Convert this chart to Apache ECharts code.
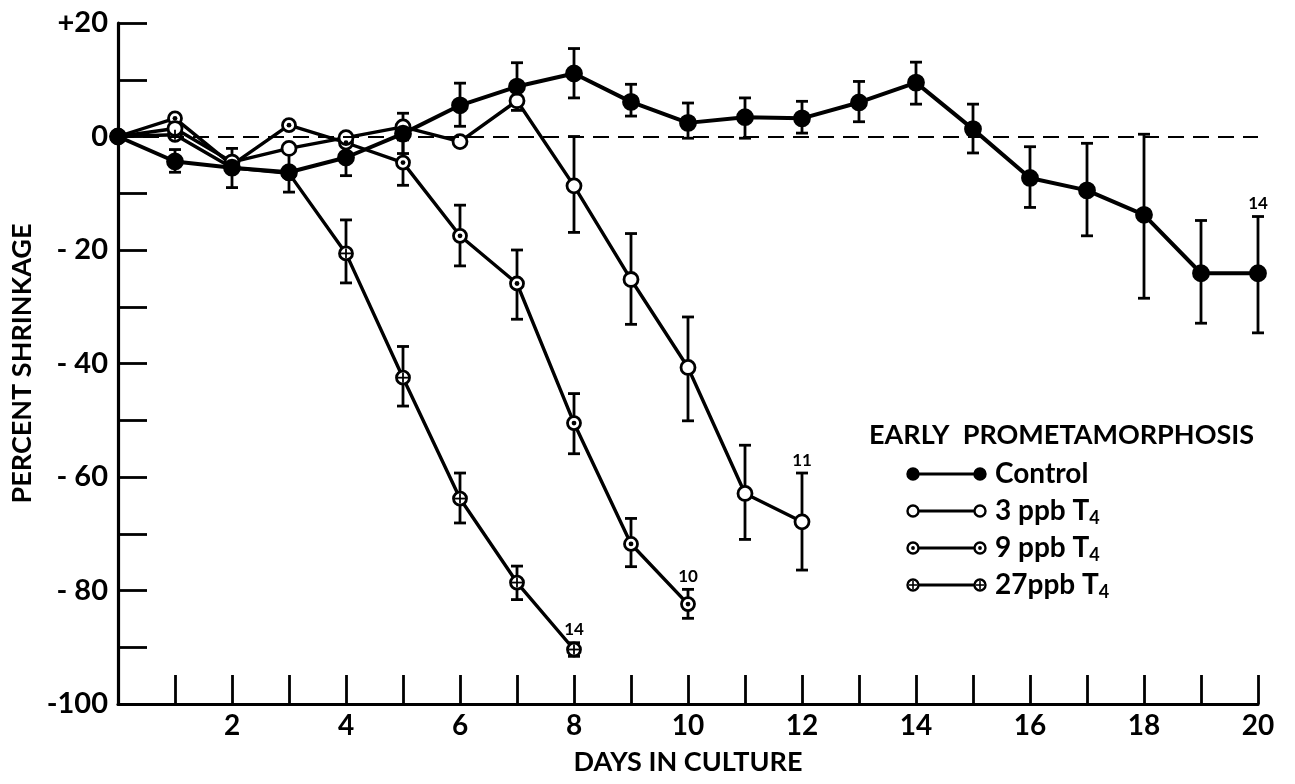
<!DOCTYPE html>
<html>
<head>
<meta charset="utf-8">
<script src="https://cdn.jsdelivr.net/npm/echarts@6/dist/echarts.min.js"></script>
<style>
html,body{margin:0;padding:0;background:#fff;}
#chart{width:1295px;height:784px;}
</style>
</head>
<body>
<div id="chart"></div>
<script>
// ---------- DATA ----------
var xTickLabels = ['2','4','6','8','10','12','14','16','18','20'];
var yTickLabels = ['-100','- 80','- 60','- 40','- 20','0','+20'];

var controlDays  = [0,1,2,3,4,5,6,7,8,9,10,11,12,13,14,15,16,17,18,19,20];
var controlVals  = [0,-4.4,-5.5,-6.3,-3.7,0.5,5.5,8.8,11.1,6.1,2.4,3.4,3.2,6.0,9.5,1.3,-7.3,-9.5,-13.8,-24.1,-24.1];
var controlLow   = [null,-6.3,-9.0,-9.8,-6.9,-3.0,1.8,4.6,6.8,3.6,-0.3,-0.3,0.6,2.6,5.7,-2.9,-12.5,-17.5,-28.5,-32.9,-34.6];
var controlHigh  = [null,-2.3,-2.1,-2.8,-0.5,4.1,9.4,13.0,15.5,9.2,5.9,6.8,6.2,9.7,13.1,5.7,-1.8,-1.2,0.4,-14.8,-14.1];

var t3Days = [0,1,2,3,4,5,6,7,8,9,10,11,12];
var t3Vals = [0,1.4,-4.5,-2.1,-0.2,1.7,-0.9,6.3,-8.7,-25.2,-40.7,-62.9,-67.9];
var t3Low  = [null,null,null,null,null,null,null,null,-16.9,-33.1,-50.1,-71.0,-76.4];
var t3High = [null,null,null,null,null,null,null,null,0,-17.1,-31.8,-54.4,-59.3];

var t9Days = [0,1,2,3,4,5,6,7,8,9,10];
var t9Vals = [0,3.2,-5.0,2.0,-1.1,-4.6,-17.5,-25.9,-50.5,-71.8,-82.4];
var t9Low  = [null,null,null,null,null,-8.6,-22.8,-32.2,-55.9,-75.8,-84.9];
var t9High = [null,null,null,null,null,-0.6,-12.1,-20.0,-45.3,-67.3,-79.8];

var t27Days = [0,1,2,3,4,5,6,7,8];
var t27Vals = [0,0.3,-5.5,-6.5,-20.6,-42.5,-63.8,-78.6,-90.4];
var t27Low  = [null,null,null,null,-25.8,-47.5,-68.1,-81.6,-91.6];
var t27High = [null,null,null,null,-14.7,-37.0,-59.3,-75.7,-89.2];

// sample-size annotations (n) placed above the last error bar
var nDays  = [20, 12, 10, 8];
var nAtY   = [-14.1, -59.3, -79.8, -89.2];
var nTexts = ['14', '11', '10', '14'];

var legendTitle = 'EARLY  PROMETAMORPHOSIS';
var legendNames = ['Control', '3 ppb T', '9 ppb T', '27ppb T'];
var legendSubs  = ['', '4', '4', '4'];

// ---------- BUILD ----------
var FONT = 'Lato, "DejaVu Sans", sans-serif';
function pairs(xs, ys){ return xs.map(function(x,i){ return [x, ys[i]]; }); }
function errs(xs, lo, hi){
  var out = [];
  xs.forEach(function(x,i){ if (lo[i] !== null && hi[i] !== null) out.push([x, lo[i], hi[i]]); });
  return out;
}

function errorSeries(data){
  return {
    type: 'custom', z: 2, silent: true,
    data: data,
    encode: { x: 0, y: [1, 2] },
    renderItem: function(params, api){
      var x = api.value(0);
      var lo = api.coord([x, api.value(1)]);
      var hi = api.coord([x, api.value(2)]);
      var w = 6;
      var st = { stroke: '#000', lineWidth: 2.8 };
      return { type: 'group', children: [
        { type: 'line', shape: { x1: lo[0], y1: lo[1], x2: hi[0], y2: hi[1] }, style: st },
        { type: 'line', shape: { x1: lo[0]-w, y1: lo[1], x2: lo[0]+w, y2: lo[1] }, style: st },
        { type: 'line', shape: { x1: hi[0]-w, y1: hi[1], x2: hi[0]+w, y2: hi[1] }, style: st }
      ]};
    }
  };
}

function lineSeries(name, data, fill, size, width){
  return {
    name: name, type: 'line', z: 3, data: data,
    showAllSymbol: true, symbol: 'circle', symbolSize: size,
    lineStyle: { color: '#000', width: width },
    itemStyle: { color: fill, borderColor: '#000', borderWidth: 2.8 },
    emphasis: { disabled: true }, silent: true
  };
}

function overlaySeries(data, kind){
  return {
    type: 'custom', z: 5, silent: true, data: data,
    encode: { x: 0, y: 1 },
    renderItem: function(params, api){
      var p = api.coord([api.value(0), api.value(1)]);
      if (kind === 'dot') {
        return { type: 'circle', shape: { cx: p[0], cy: p[1], r: 2.4 }, style: { fill: '#000' } };
      }
      var r = 5;
      var st = { stroke: '#000', lineWidth: 1.8 };
      return { type: 'group', children: [
        { type: 'line', shape: { x1: p[0]-r, y1: p[1], x2: p[0]+r, y2: p[1] }, style: st },
        { type: 'line', shape: { x1: p[0], y1: p[1]-r, x2: p[0], y2: p[1]+r }, style: st }
      ]};
    }
  };
}

var annotData = nDays.map(function(d,i){ return [d, nAtY[i], nTexts[i]]; });

var series = [
  errorSeries(errs(controlDays, controlLow, controlHigh)),
  errorSeries(errs(t3Days, t3Low, t3High)),
  errorSeries(errs(t9Days, t9Low, t9High)),
  errorSeries(errs(t27Days, t27Low, t27High)),
  lineSeries('27ppb', pairs(t27Days, t27Vals), '#fff', 13, 3.4),
  lineSeries('9ppb', pairs(t9Days, t9Vals), '#fff', 13, 3.4),
  lineSeries('3ppb', pairs(t3Days, t3Vals), '#fff', 14, 3.4),
  lineSeries('Control', pairs(controlDays, controlVals), '#000', 15, 4),
  overlaySeries(pairs(t9Days.slice(1), t9Vals.slice(1)), 'dot'),
  overlaySeries(pairs(t27Days.slice(1), t27Vals.slice(1)), 'cross'),
  {
    type: 'custom', z: 6, silent: true, data: annotData,
    encode: { x: 0, y: 1 },
    renderItem: function(params, api){
      var p = api.coord([api.value(0), api.value(1)]);
      return { type: 'text', x: p[0], y: p[1] - 13,
        style: { text: String(nTexts[params.dataIndex]), fill: '#000', fontSize: 17, fontFamily: 'Lato', fontWeight: 'bold',
                 align: 'center', verticalAlign: 'middle' } };
    }
  }
];

// dashed zero line
series[7].markLine = {
  silent: true, symbol: 'none', label: { show: false },
  lineStyle: { color: '#000', type: [16, 9], width: 2.2 },
  data: [{ yAxis: 0 }]
};

// legend (graphic)
var legendGraphics = [];
var lgX1 = 913, lgX2 = 980, lgTextX = 995, lgY0 = 474, lgStep = 37;
legendGraphics.push({ type: 'text', x: 869, y: 435,
  style: { text: legendTitle, fontFamily: 'Lato', fontSize: 27, fontWeight: 'bold', fill: '#000', verticalAlign: 'middle' } });
legendNames.forEach(function(nm, i){
  var y = lgY0 + i * lgStep;
  var fill = i === 0 ? '#000' : '#fff';
  legendGraphics.push({ type: 'line', shape: { x1: lgX1, y1: y, x2: lgX2, y2: y }, style: { stroke: '#000', lineWidth: 3 } });
  [lgX1, lgX2].forEach(function(cx){
    legendGraphics.push({ type: 'circle', shape: { cx: cx, cy: y, r: 5.5 }, style: { fill: fill, stroke: '#000', lineWidth: 2.4 } });
    if (i === 2) legendGraphics.push({ type: 'circle', shape: { cx: cx, cy: y, r: 1.9 }, style: { fill: '#000' } });
    if (i === 3) {
      legendGraphics.push({ type: 'line', shape: { x1: cx-4, y1: y, x2: cx+4, y2: y }, style: { stroke: '#000', lineWidth: 1.6 } });
      legendGraphics.push({ type: 'line', shape: { x1: cx, y1: y-4, x2: cx, y2: y+4 }, style: { stroke: '#000', lineWidth: 1.6 } });
    }
  });
  var txt = legendSubs[i] ? nm + '{sub|' + legendSubs[i] + '}' : nm;
  legendGraphics.push({ type: 'text', x: lgTextX, y: y,
    style: { text: txt, fontFamily: 'Lato', fontSize: 28, fontWeight: 'bold', fill: '#000', verticalAlign: 'middle',
      rich: { sub: { fontSize: 18, fontFamily: 'Lato', fontWeight: 'bold', verticalAlign: 'bottom', padding: [14, 0, 0, 0] } } } });
});

var chart = echarts.init(document.getElementById('chart'), null, { renderer: 'canvas' });
chart.setOption({
  animation: false,
  backgroundColor: '#fff',
  grid: { left: 118, right: 37, top: 23, bottom: 80, containLabel: false, outerBoundsMode: 'none' },
  xAxis: {
    type: 'value', min: 0, max: 20, interval: 1,
    name: 'DAYS IN CULTURE', nameLocation: 'middle', nameGap: 45,
    nameTextStyle: { color: '#000', fontSize: 27, fontFamily: FONT, fontWeight: 'bold' },
    axisLine: { show: true, onZero: false, lineStyle: { color: '#000', width: 3.2 } },
    axisTick: { show: true, inside: true, length: 29, lineStyle: { color: '#000', width: 2.8 } },
    axisLabel: { color: '#000', fontSize: 28, fontFamily: FONT, fontWeight: 'bold', margin: 8,
      formatter: function(v){ var s = String(v); return xTickLabels.indexOf(s) >= 0 ? s : ''; } },
    splitLine: { show: false }
  },
  yAxis: {
    type: 'value', min: -100, max: 20, interval: 10,
    name: 'PERCENT SHRINKAGE', nameLocation: 'middle', nameGap: 72, nameRotate: 90,
    nameTextStyle: { color: '#000', fontSize: 27, fontFamily: FONT, fontWeight: 'bold' },
    axisLine: { show: true, onZero: false, lineStyle: { color: '#000', width: 3.2 } },
    axisTick: { show: true, inside: true, length: 29, lineStyle: { color: '#000', width: 2.8 } },
    axisLabel: { color: '#000', fontSize: 29, fontFamily: FONT, fontWeight: 'bold', margin: 10,
      formatter: function(v){
        if (v % 20 !== 0) return '';
        var idx = (v + 100) / 20;
        return yTickLabels[idx];
      } },
    splitLine: { show: false }
  },
  series: series,
  graphic: legendGraphics
});
</script>
</body>
</html>
